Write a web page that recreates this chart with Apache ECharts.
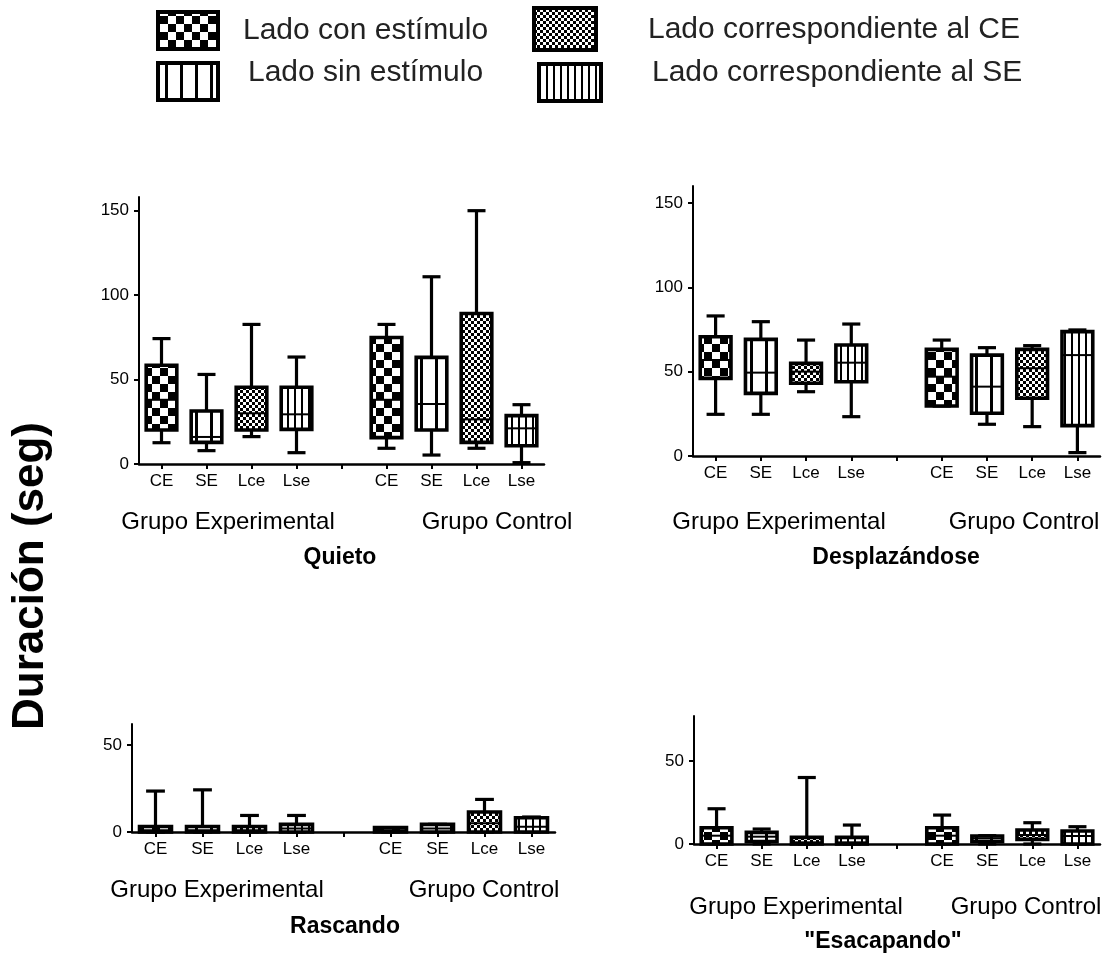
<!DOCTYPE html>
<html>
<head>
<meta charset="utf-8">
<script src="https://cdn.jsdelivr.net/npm/echarts@6/dist/echarts.min.js"></script>
<style>
  html, body { margin: 0; padding: 0; background: #fff; }
  #chart { width: 1116px; height: 959px; }
</style>
</head>
<body>
<div id="chart"></div>
<script>
// Categories along each x axis (index 4 is the blank gap between groups)
const categories = ['CE', 'SE', 'Lce', 'Lse', '', 'CE', 'SE', 'Lce', 'Lse'];
// Fill pattern used by each category
const fillKinds = ['ce', 'se', 'lce', 'lse', null, 'ce', 'se', 'lce', 'lse'];

// Five-number summaries per category: [min, Q1, median, Q3, max] (seconds)
const quieto = [
  [12.6, 20.1, 38, 58.4, 74.2],
  [7.9, 12.8, 16, 31.4, 53],
  [16.2, 20.1, 30, 45.4, 82.6],
  [6.7, 20.5, 29.4, 45.4, 63.3],
  null,
  [9.3, 15.6, 38, 74.9, 82.6],
  [5.3, 20.1, 35.5, 63.1, 110.8],
  [9.3, 12.8, 26.4, 89.1, 149.9],
  [0.8, 10.8, 21.1, 28.6, 35.1]
];
const desplazandose = [
  [24.7, 46, 56.9, 70.7, 83],
  [24.7, 37.1, 49.4, 69.1, 79.6],
  [38.1, 43.1, 50, 54.9, 68.7],
  [23.3, 44, 55.3, 65.8, 78.2],
  null,
  [29.6, 29.6, 47, 63.2, 68.7],
  [18.8, 25.3, 41.1, 59.8, 64.2],
  [17.4, 34.2, 52, 63.2, 65.4],
  [2, 18, 59.8, 73.7, 74.7]
];
const rascando = [
  [0, 0, 1, 3.2, 23.5],
  [0, 0, 1, 3.2, 24.2],
  [0, 0, 1, 3.2, 9.5],
  [0, 0, 2, 4.4, 9.5],
  null,
  [0, 0, 1, 2.5, 2.5],
  [0, 0, 2, 4.4, 4.4],
  [0, 0, 5, 11.5, 18.7],
  [0, 0, 3, 8.2, 8.6]
];
const escapando = [
  [0, 0, 5, 9.8, 21.2],
  [0, 1.4, 4.4, 7, 9],
  [0, 0, 1, 4, 40],
  [0, 0, 1, 4, 11.4],
  null,
  [0, 0, 5, 9.8, 17.4],
  [0, 1.4, 3.4, 4.8, 5],
  [0, 2.8, 5.4, 8.4, 12.8],
  [0, 0, 4.8, 7.8, 10.4]
];

// Y-axis tick values
const ticksTall = [0, 50, 100, 150];
const ticksShort = [0, 50];

// Legend entries: pattern kind and text
const legendItems = [
  ['ce', 'Lado con estímulo'],
  ['lce', 'Lado correspondiente al CE'],
  ['se', 'Lado sin estímulo'],
  ['lse', 'Lado correspondiente al SE']
];

// ---- black & white hatch patterns ----
function makePattern(kind) {
  const c = document.createElement('canvas');
  let w, h;
  if (kind === 'ce') { w = 16; h = 16; }
  else if (kind === 'lce') { w = 6; h = 6; }
  else if (kind === 'se') { w = 15; h = 4; }
  else { w = 7; h = 4; }
  c.width = w; c.height = h;
  const ctx = c.getContext('2d');
  ctx.fillStyle = '#fff';
  ctx.fillRect(0, 0, w, h);
  ctx.fillStyle = '#000';
  if (kind === 'ce') { ctx.fillRect(0, 0, 8, 8); ctx.fillRect(8, 8, 8, 8); }
  else if (kind === 'lce') { ctx.fillRect(0, 0, 3, 3); ctx.fillRect(3, 3, 3, 3); }
  else if (kind === 'se') { ctx.fillRect(0, 0, 3, h); }
  else { ctx.fillRect(0, 0, 2, h); }
  return { image: c, repeat: 'repeat' };
}
const patterns = {
  ce: makePattern('ce'), lce: makePattern('lce'),
  se: makePattern('se'), lse: makePattern('lse')
};

const FONT = '"Liberation Sans", Arial, sans-serif';

function boxRows(stats) {
  const rows = [];
  stats.forEach((s, i) => { if (s) rows.push([i, s[0], s[1], s[2], s[3], s[4]]); });
  return rows;
}

function renderBox(params, api) {
  const idx = api.value(0);
  const lo = api.coord([idx, api.value(1)]);
  const q1 = api.coord([idx, api.value(2)]);
  const md = api.coord([idx, api.value(3)]);
  const q3 = api.coord([idx, api.value(4)]);
  const hi = api.coord([idx, api.value(5)]);
  const band = api.size([1, 0])[0];
  const bw = band * 0.68;
  const cw = band * 0.4;
  const x = lo[0];
  const ln = { stroke: '#000', lineWidth: 3.2 };
  return {
    type: 'group',
    children: [
      { type: 'line', shape: { x1: x, y1: hi[1], x2: x, y2: q3[1] }, style: ln },
      { type: 'line', shape: { x1: x, y1: q1[1], x2: x, y2: lo[1] }, style: ln },
      { type: 'line', shape: { x1: x - cw / 2, y1: hi[1], x2: x + cw / 2, y2: hi[1] }, style: ln },
      { type: 'line', shape: { x1: x - cw / 2, y1: lo[1], x2: x + cw / 2, y2: lo[1] }, style: ln },
      { type: 'rect', shape: { x: x - bw / 2, y: q3[1], width: bw, height: q1[1] - q3[1] },
        style: { fill: patterns[fillKinds[idx]], stroke: '#000', lineWidth: 3.6 } },
      { type: 'line', shape: { x1: x - bw / 2, y1: md[1], x2: x + bw / 2, y2: md[1] },
        style: { stroke: '#000', lineWidth: 2 } }
    ]
  };
}

// Panel layout: grid box and y range
const panels = [
  { stats: quieto, left: 139, top: 197, width: 405, height: 267, max: 158, ticks: ticksTall },
  { stats: desplazandose, left: 693, top: 186, width: 407, height: 270, max: 160, ticks: ticksTall },
  { stats: rascando, left: 132, top: 724, width: 423, height: 108, max: 62, ticks: ticksShort },
  { stats: escapando, left: 694, top: 716, width: 406, height: 128, max: 77, ticks: ticksShort }
];

const grid = [], xAxis = [], yAxis = [], series = [];
panels.forEach((p, i) => {
  grid.push({ left: p.left, top: p.top, width: p.width, height: p.height, containLabel: false, outerBoundsMode: 'none' });
  xAxis.push({
    type: 'category', gridIndex: i, data: categories, boundaryGap: true,
    axisLine: { show: true, lineStyle: { color: '#000', width: 2.5 } },
    axisTick: { show: true, alignWithLabel: true, length: 5, inside: false, lineStyle: { color: '#000', width: 2 } },
    axisLabel: { interval: 0, color: '#000', fontSize: 17, fontFamily: FONT, margin: 9 },
    splitLine: { show: false }
  });
  yAxis.push({
    type: 'value', gridIndex: i, min: 0, max: p.max,
    axisLine: { show: true, lineStyle: { color: '#000', width: 2 } },
    axisTick: { show: true, length: 5, inside: false, customValues: p.ticks, lineStyle: { color: '#000', width: 2 } },
    axisLabel: { customValues: p.ticks, color: '#000', fontSize: 17, fontFamily: FONT, margin: 10 },
    splitLine: { show: false }
  });
  series.push({
    type: 'custom', xAxisIndex: i, yAxisIndex: i,
    renderItem: renderBox,
    encode: { x: 0, y: [1, 2, 3, 4, 5] },
    data: boxRows(p.stats),
    silent: true
  });
});

function label(text, x, y, size, weight) {
  return {
    type: 'text', x: x, y: y, silent: true,
    style: {
      text: text, fill: '#000', font: (weight || 'normal') + ' ' + size + 'px ' + FONT,
      align: 'center', verticalAlign: 'middle', textAlign: 'center', textVerticalAlign: 'middle'
    }
  };
}

const graphic = [
  label('Grupo Experimental', 228, 522, 24),
  label('Grupo Control', 497, 522, 24),
  label('Quieto', 340, 558, 23, 'bold'),
  label('Grupo Experimental', 779, 522, 24),
  label('Grupo Control', 1024, 522, 24),
  label('Desplazándose', 896, 558, 23, 'bold'),
  label('Grupo Experimental', 217, 890, 24),
  label('Grupo Control', 484, 890, 24),
  label('Rascando', 345, 927, 23, 'bold'),
  label('Grupo Experimental', 796, 907, 24),
  label('Grupo Control', 1026, 907, 24),
  label('"Esacapando"', 883, 942, 23, 'bold'),
  Object.assign(label('Duración (seg)', 31, 576, 44, 'bold'), { rotation: Math.PI / 2 })
];

// Legend swatches and texts
const swatchPos = [
  { x: 158, y: 12, w: 60, h: 37, tx: 243, ty: 31 },
  { x: 534, y: 8, w: 62, h: 42, tx: 648, ty: 30 },
  { x: 158, y: 63, w: 60, h: 37, tx: 248, ty: 73 },
  { x: 539, y: 64, w: 62, h: 37, tx: 652, ty: 73 }
];
legendItems.forEach((item, i) => {
  const s = swatchPos[i];
  graphic.push({
    type: 'rect', silent: true,
    shape: { x: s.x, y: s.y, width: s.w, height: s.h },
    style: { fill: patterns[item[0]], stroke: '#000', lineWidth: 4 }
  });
  graphic.push({
    type: 'text', x: s.tx, y: s.ty, silent: true,
    style: { text: item[1], fill: '#222', font: 'normal 30px ' + FONT,
      align: 'left', verticalAlign: 'middle', textAlign: 'left', textVerticalAlign: 'middle' }
  });
});

const chart = echarts.init(document.getElementById('chart'), null, { renderer: 'canvas' });
chart.setOption({
  backgroundColor: '#fff',
  animation: false,
  grid: grid,
  xAxis: xAxis,
  yAxis: yAxis,
  series: series,
  graphic: graphic
});
</script>
</body>
</html>
